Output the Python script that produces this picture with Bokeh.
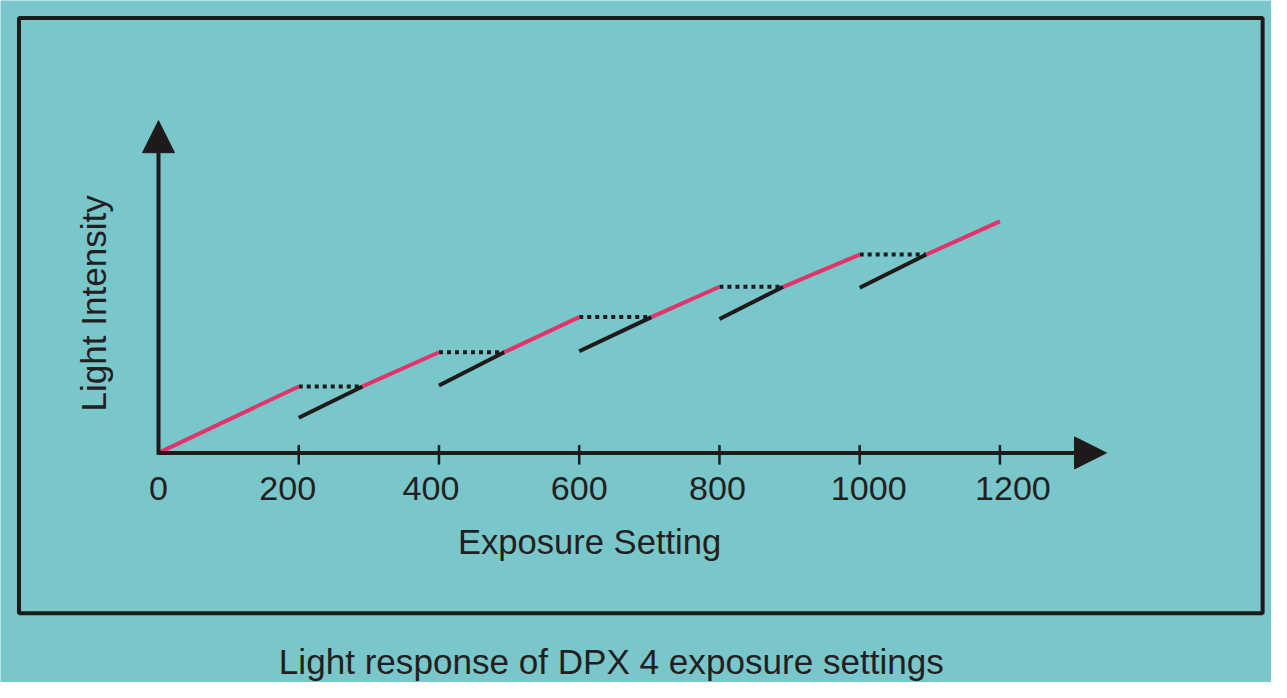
from bokeh.plotting import figure
from bokeh.models import Range1d, Arrow, NormalHead
from bokeh.core.properties import value
from bokeh.embed import file_html
from bokeh.resources import INLINE

# ---------------- data ----------------
x_ticks = [0, 200, 400, 600, 800, 1000, 1200]
x_tick_labels = ["0", "200", "400", "600", "800", "1000", "1200"]

# red response segments (exposure setting -> light intensity, arbitrary units)
red_x0 = [0, 291, 493, 703, 891, 1095]
red_y0 = [0, 68, 103, 139, 170, 203]
red_x1 = [200, 400, 600, 800, 1000, 1200]
red_y1 = [68, 103, 139, 170, 203, 237]

# black (next exposure setting) segments
blk_x0 = [200, 400, 600, 800, 1000]
blk_y0 = [36, 69, 104, 137, 169]
blk_x1 = [291, 493, 703, 891, 1095]
blk_y1 = [68, 103, 139, 170, 203]

# dotted hold levels
dot_x0 = [200, 400, 600, 800, 1000]
dot_x1 = [291, 493, 703, 891, 1095]
dot_y = [68, 103, 139, 170, 203]

x_axis_end = 1352
y_axis_end = 340

title_x = "Exposure Setting"
title_y = "Light Intensity"
caption = "Light response of DPX 4 exposure settings"

# ---------------- layout ----------------
W, H = 1271, 682           # canvas (whole picture, scaled)
REF_W, REF_H = 1287, 698   # reference picture size
OX, OY = 160, 463          # reference pixel of the origin
SX = 0.71                  # reference px per exposure unit
FS = W / REF_W             # font scale
KX = W / REF_W             # canvas px per reference px (x)
KY = H / REF_H             # canvas px per reference px (y)
TEXT_SHIFT = 12            # canvas px the svg baseline lands below target


def dx(ref_x):
    return (ref_x - OX) / SX


def dy(ref_y):
    return OY - ref_y


BG = "#79c6cb"
INK = "#1e1a1a"
TXT = "#231f20"
RED = "#e2346a"
FONT = value("Liberation Sans")


def fs(px):
    return f"{px * FS:.1f}px"


# baseline correction in data units
TY = TEXT_SHIFT / KY
TX = TEXT_SHIFT / (KX * SX)

p = figure(width=W, height=H, output_backend="svg", toolbar_location=None,
           x_range=Range1d(dx(0), dx(REF_W)),
           y_range=Range1d(dy(REF_H), dy(0)),
           x_axis_location=None, y_axis_location=None, min_border=0)
p.grid.visible = False
p.outline_line_color = None
p.background_fill_color = BG
p.border_fill_color = BG

# frame box
p.quad(left=[dx(18.7)], right=[dx(1278)], top=[dy(18)], bottom=[dy(627)],
       fill_color=None, line_color=INK, line_width=4)

# axes with arrows
p.add_layout(Arrow(x_start=0, y_start=0, x_end=x_axis_end, y_end=0,
                   line_color=INK, line_width=4,
                   end=NormalHead(size=32, fill_color=INK, line_color=INK, line_width=1)))
p.add_layout(Arrow(x_start=0, y_start=-2, x_end=0, y_end=y_axis_end,
                   line_color=INK, line_width=4,
                   end=NormalHead(size=32, fill_color=INK, line_color=INK, line_width=1)))

# ticks
tk = x_ticks[1:]
p.segment(x0=tk, y0=[8] * len(tk), x1=tk, y1=[-12] * len(tk),
          line_color=INK, line_width=2.5)

# tick labels
label_dx = [0, -11, -8, 0, -2, 9, 13]
p.text(x=x_ticks, y=[dy(511.7) + TY] * len(x_ticks), text=x_tick_labels,
       x_offset=label_dx, text_font=FONT, text_font_size=fs(34.5),
       text_color=TXT, text_align="center", text_baseline="alphabetic")

# axis titles
p.text(x=[dx(596.5)], y=[dy(566) + TY], text=[title_x], text_font=FONT,
       text_font_size=fs(35), text_color=TXT,
       text_align="center", text_baseline="alphabetic")
p.text(x=[dx(106) - TX], y=[dy(310)], text=[title_y], angle=1.5707963,
       text_font=FONT, text_font_size=fs(35.5), text_color=TXT,
       text_align="center", text_baseline="alphabetic")

# black segments, dotted holds, red response
p.segment(x0=blk_x0, y0=blk_y0, x1=blk_x1, y1=blk_y1,
          line_color=INK, line_width=4)
p.segment(x0=dot_x0, y0=dot_y, x1=dot_x1, y1=dot_y,
          line_color=INK, line_width=4, line_dash="4 4")
p.segment(x0=red_x0, y0=red_y0, x1=red_x1, y1=red_y1,
          line_color=RED, line_width=4)

# caption
p.text(x=[dx(618.5)], y=[dy(689) + TY], text=[caption], text_font=FONT,
       text_font_size=fs(35.5), text_color=TXT,
       text_align="center", text_baseline="alphabetic")

open("out.html", "w").write(file_html(p, INLINE))
